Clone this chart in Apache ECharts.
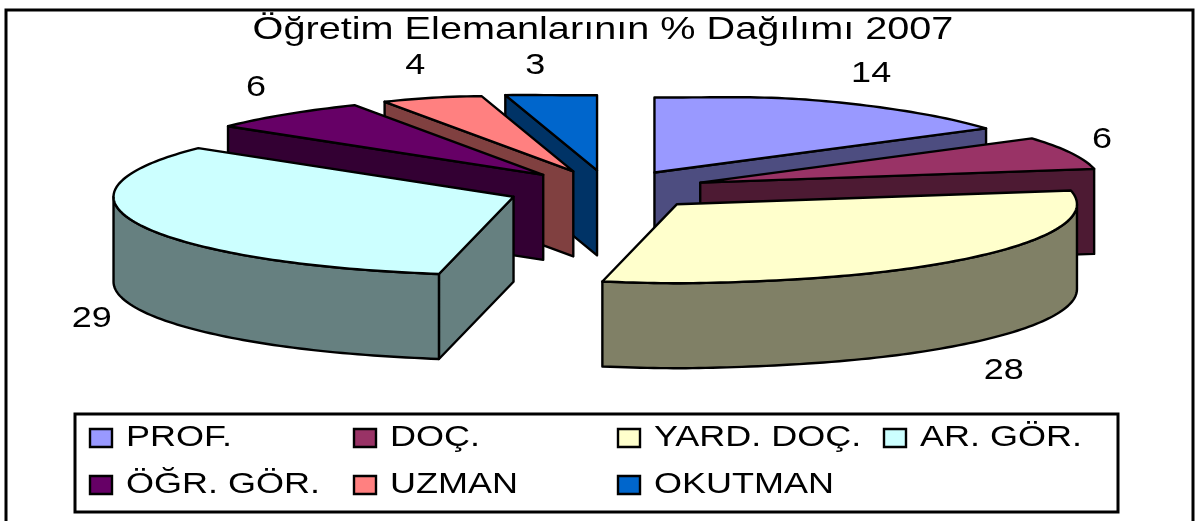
<!DOCTYPE html>
<html>
<head>
<meta charset="utf-8">
<title>Öğretim Elemanlarının % Dağılımı 2007</title>
<script src="https://cdn.jsdelivr.net/npm/echarts@6/dist/echarts.min.js"></script>
<style>
html,body{margin:0;padding:0;background:#fff}
#chartImg{width:1197px;height:521px}
</style>
</head>
<body>
<div id="chartImg"></div>
<script>
var chartTitle = 'Öğretim Elemanlarının % Dağılımı 2007';
var categories = ['PROF.', 'DOÇ.', 'YARD. DOÇ.', 'AR. GÖR.', 'ÖĞR. GÖR.', 'UZMAN', 'OKUTMAN'];
var values = [14, 6, 28, 29, 6, 4, 3];

var topColors = ['#9999ff', '#993366', '#ffffcc', '#ccffff', '#660066', '#ff8080', '#0066cc'];
var sideColors = ['#4d4d80', '#4d1a33', '#808066', '#668080', '#330033', '#804040', '#003366'];
// paint order, back slices first
var drawOrder = [0, 1, 2, 6, 5, 4, 3];
// nudge of the value labels away from the rim
var labelNudge = [[28, -29], [31, -13], [49, 25], [-46, 10], [-30, -27], [-17, -32], [-13, -29]];
var legendCols = [90, 354, 618, 884, 90, 354, 618];
var legendRows = [438, 438, 438, 438, 485, 485, 485];

var cx = 607.5, cy = 190, rx = 400, ry = 79, depth = 85, explode = 0.25;
var stretch = 1.2;
var fontName = '"Liberation Sans", Arial, sans-serif';
var total = values.reduce(function (a, b) { return a + b; }, 0);

// the picture's perspective: wider and flatter at the very back, narrower at the very front
function perspective(a) {
    var c = Math.cos(a);
    return Math.pow(Math.abs(c), 30) * (c < 0 ? -1 : 1);
}

function renderSlice(index) {
    return function (params, api) {
        var before = 0;
        for (var i = 0; i < index; i++) before += values[i];
        var a0 = before / total * 2 * Math.PI;
        var a1 = (before + api.value(0)) / total * 2 * Math.PI;
        var mid = (a0 + a1) / 2;
        var ox = cx + explode * rx * Math.sin(mid);
        var oy = cy - explode * ry * Math.cos(mid);
        function rim(a, drop) {
            var p = perspective(a);
            var back = Math.max(p, 0);
            return [ox + rx * (1 + 0.2 * p) * Math.sin(a), oy - ry * (1 - 0.05 * back) * Math.cos(a) + (drop || 0)];
        }
        function arc(from, to, drop) {
            var pts = [], n = Math.max(2, Math.ceil((to - from) / 0.02));
            for (var k = 0; k <= n; k++) pts.push(rim(from + (to - from) * k / n, drop));
            return pts;
        }
        function poly(points, fill) {
            return {
                type: 'polygon',
                shape: { points: points },
                style: { fill: fill, stroke: '#000', lineWidth: 2.4, lineJoin: 'round' }
            };
        }
        function wall(a) {
            var p = rim(a);
            return poly([[ox, oy], p, [p[0], p[1] + depth], [ox, oy + depth]], sideColors[index]);
        }
        var children = [];
        if (Math.sin(a0) < -1e-6) children.push(wall(a0));
        if (Math.sin(a1) > 1e-6) children.push(wall(a1));
        // only the front half of the rim shows its side
        var f0 = Math.max(a0, Math.PI / 2), f1 = Math.min(a1, Math.PI * 3 / 2);
        if (f1 > f0) {
            children.push(poly(arc(f0, f1).concat(arc(f0, f1, depth).reverse()), sideColors[index]));
        }
        children.push(poly([[ox, oy]].concat(arc(a0, a1)), topColors[index]));
        var isFront = Math.cos(mid) < 0;
        var lp = rim(mid, isFront ? depth : 0);
        children.push({
            type: 'text',
            x: lp[0] + labelNudge[index][0],
            y: lp[1] + labelNudge[index][1],
            scaleX: stretch,
            style: {
                text: String(api.value(0)),
                fill: '#000',
                font: '30px ' + fontName,
                align: 'center',
                verticalAlign: 'middle'
            }
        });
        return { type: 'group', children: children };
    };
}

var legendGraphic = [];
categories.forEach(function (name, i) {
    legendGraphic.push({
        type: 'rect',
        shape: { x: legendCols[i], y: legendRows[i] - 9, width: 22, height: 18 },
        style: { fill: topColors[i], stroke: '#000', lineWidth: 2.4 }
    });
    legendGraphic.push({
        type: 'text',
        x: legendCols[i] + 36,
        y: legendRows[i],
        scaleX: stretch,
        style: { text: name, fill: '#000', font: '30px ' + fontName, align: 'left', verticalAlign: 'middle' }
    });
});

var myChart = echarts.init(document.getElementById('chartImg'));
var option = {
    animation: false,
    backgroundColor: '#fff',
    graphic: [
        {
            type: 'polyline',
            shape: { points: [[6, 521], [6, 10], [1193, 10], [1193, 521]] },
            style: { fill: null, stroke: '#000', lineWidth: 3 }
        },
        {
            type: 'rect',
            shape: { x: 75, y: 414, width: 1043, height: 98 },
            style: { fill: '#fff', stroke: '#000', lineWidth: 3 }
        },
        {
            type: 'text',
            x: 603,
            y: 31,
            scaleX: 1.3,
            style: { text: chartTitle, fill: '#000', font: '30.5px ' + fontName, align: 'center', verticalAlign: 'middle' }
        }
    ].concat(legendGraphic),
    series: drawOrder.map(function (idx, order) {
        return {
            type: 'custom',
            name: categories[idx],
            coordinateSystem: 'none',
            silent: true,
            z: 2 + order,
            data: [[values[idx]]],
            renderItem: renderSlice(idx)
        };
    })
};
myChart.setOption(option);
</script>
</body>
</html>
